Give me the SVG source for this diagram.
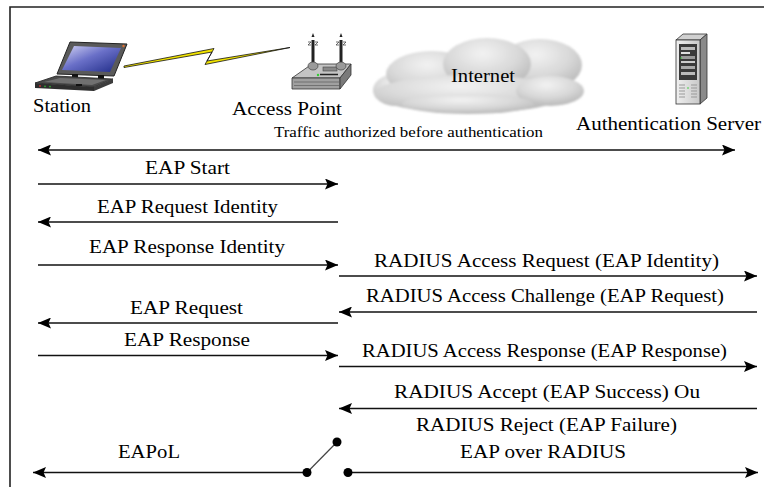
<svg xmlns="http://www.w3.org/2000/svg" width="764" height="487" viewBox="0 0 764 487">
  <style>
    .lbl { font-family: "Liberation Serif", "Times New Roman", serif; font-size: 19.5px; fill: #000; }
    .small { font-size: 15.5px; }
    .msg { stroke: #111; stroke-width: 1.3; fill: none; }
    .arr { marker-end: url(#head); }
    .both { marker-start: url(#head); marker-end: url(#head); }
    .dot { fill: #000; }
    .frame { stroke: #222; stroke-width: 1.6; fill: none; }
  </style>
  <defs>
    <marker id="head" viewBox="0 0 13 11" markerWidth="13" markerHeight="11" refX="13" refY="5.5" orient="auto-start-reverse" markerUnits="userSpaceOnUse">
      <path d="M0,0 L13,5.5 L0,11 L2.5,5.5 z" fill="#000"/>
    </marker>
    <linearGradient id="screen" x1="0" y1="0" x2="1" y2="1">
      <stop offset="0" stop-color="#d4d4f4"/>
      <stop offset="0.45" stop-color="#6a70c8"/>
      <stop offset="1" stop-color="#1e2a86"/>
    </linearGradient>
    <radialGradient id="puff" cx="0.45" cy="0.3" r="0.75">
      <stop offset="0" stop-color="#f2f2f2"/>
      <stop offset="0.55" stop-color="#d8d8d8"/>
      <stop offset="1" stop-color="#b4b4b4"/>
    </radialGradient>
    <linearGradient id="tower" x1="0" y1="0" x2="1" y2="0">
      <stop offset="0" stop-color="#f0f0f0"/>
      <stop offset="1" stop-color="#c8c8c8"/>
    </linearGradient>
    <filter id="soft" x="-10%" y="-20%" width="120%" height="140%">
      <feGaussianBlur stdDeviation="1.2"/>
    </filter>
  </defs>

  <rect width="764" height="487" fill="#fff"/>
  <!-- outer frame: left and top edges -->
  <path class="frame" d="M10,487 V7 H764"/>

  <!-- laptop -->
  <g id="station">
    <polygon points="70,42 127,44 114,76 57,74" fill="#5a5a5a" stroke="#222" stroke-width="1"/>
    <polygon points="74,46 121,48 110,72 62,70" fill="url(#screen)"/>
    <circle cx="123.5" cy="46" r="1.2" fill="#e07030"/>
    <rect x="72" y="74" width="6" height="5" fill="#111"/>
    <rect x="98" y="75" width="6" height="5" fill="#111"/>
    <polygon points="56,76 113,79 94,87 35,83" fill="#4a4a4a" stroke="#222" stroke-width="0.8"/>
    <polygon points="60,78 106,80 92,85 44,82" fill="#707070"/>
    <polygon points="35,83 94,87 94,91 35,88" fill="#2e2e2e"/>
    <polygon points="94,87 113,79 113,83 94,91" fill="#3c3c3c"/>
    <rect x="76" y="84" width="6" height="2" fill="#111"/>
    <circle cx="40" cy="86" r="0.9" fill="#c33"/>
    <circle cx="45" cy="86.3" r="0.9" fill="#3a3"/>
    <circle cx="50" cy="86.6" r="0.9" fill="#3a3"/>
    <text class="lbl" x="33" y="112" textLength="58" lengthAdjust="spacingAndGlyphs">Station</text>
  </g>

  <!-- wireless link -->
  <g id="radio-link">
    <polygon points="124,66 214,48.5 207,61 290,47.5 205,64.5 212,52 124,67.5" fill="#f2e400" stroke="#111" stroke-width="0.8"/>
  </g>

  <!-- access point -->
  <g id="access-point">
    <polygon points="292,78 312,64 351,64 340,78" fill="#c4c4c4" stroke="#333" stroke-width="0.8"/>
    <polygon points="292,78 340,78 340,89 292,89" fill="#a0a0a0" stroke="#333" stroke-width="0.8"/>
    <polygon points="340,78 351,64 351,75 340,89" fill="#7a7a7a" stroke="#333" stroke-width="0.8"/>
    <line x1="294" y1="82" x2="339" y2="82" stroke="#666" stroke-width="0.8"/>
    <line x1="294" y1="85.5" x2="339" y2="85.5" stroke="#666" stroke-width="0.8"/>
    <rect x="323" y="67" width="14" height="4" fill="#888" stroke="#444" stroke-width="0.6"/>
    <line x1="320" y1="74.5" x2="338" y2="74.5" stroke="#222" stroke-width="1.5"/>
    <circle cx="318" cy="75" r="1.2" fill="#3c3"/>
    <line x1="313" y1="40" x2="313" y2="65" stroke="#222" stroke-width="3"/>
    <line x1="341" y1="40" x2="341" y2="65" stroke="#222" stroke-width="3"/>
    <ellipse cx="313" cy="66" rx="5" ry="4" fill="#9a9a9a" stroke="#444" stroke-width="0.7"/>
    <ellipse cx="341" cy="66" rx="5" ry="4" fill="#9a9a9a" stroke="#444" stroke-width="0.7"/>
    <path d="M308,42 h3 l-3,3 h3 M315,42 h3 l-3,3 h3 M336,42 h3 l-3,3 h3 M343,42 h3 l-3,3 h3" stroke="#333" stroke-width="0.7" fill="none"/>
    <path d="M313,33 l-1.5,4 h3 z M341,33 l-1.5,4 h3 z" fill="#222"/>
    <text class="lbl" x="232" y="115" textLength="110" lengthAdjust="spacingAndGlyphs">Access Point</text>
  </g>

  <!-- cloud -->
  <g id="internet">
    <g filter="url(#soft)">
      <ellipse cx="396" cy="90" rx="23" ry="16" fill="url(#puff)"/>
      <ellipse cx="432" cy="74" rx="46" ry="23" fill="url(#puff)"/>
      <ellipse cx="540" cy="65" rx="42" ry="26" fill="url(#puff)"/>
      <ellipse cx="487" cy="64" rx="44" ry="26" fill="url(#puff)"/>
      <ellipse cx="470" cy="94" rx="96" ry="19" fill="url(#puff)"/>
      <ellipse cx="550" cy="91" rx="34" ry="15" fill="url(#puff)"/>
      <ellipse cx="468" cy="104" rx="66" ry="10" fill="url(#puff)"/>
    </g>
    <text class="lbl" x="451" y="82" textLength="64" lengthAdjust="spacingAndGlyphs">Internet</text>
  </g>

  <!-- tower server -->
  <g id="auth-server">
    <polygon points="676,40 683,34 707,34 700,40" fill="#d0d0d0" stroke="#333" stroke-width="0.8"/>
    <polygon points="700,40 707,34 707,98 700,104" fill="#8a8a8a" stroke="#333" stroke-width="0.8"/>
    <rect x="676" y="40" width="24" height="64" fill="url(#tower)" stroke="#333" stroke-width="0.8"/>
    <rect x="679" y="44" width="18" height="36" fill="#3a3a3a"/>
    <rect x="681" y="47" width="14" height="3" fill="#bbb"/>
    <rect x="681" y="52" width="9" height="2" fill="#ddd"/>
    <rect x="681" y="56" width="14" height="3" fill="#999"/>
    <rect x="681" y="61" width="14" height="2" fill="#ccc"/>
    <rect x="681" y="66" width="14" height="3" fill="#aaa"/>
    <rect x="681" y="72" width="14" height="3" fill="#bbb"/>
    <circle cx="681" cy="58" r="0.8" fill="#3c3"/>
    <path d="M679,85 h6 M691,85 h6 M679,88 h6 M691,88 h6 M679,91 h6 M691,91 h6 M679,94 h6 M691,94 h6 M679,97 h6 M691,97 h6" stroke="#999" stroke-width="1"/>
    <circle cx="688" cy="88" r="0.8" fill="#3c3"/>
    <text class="lbl" x="576" y="130" textLength="185" lengthAdjust="spacingAndGlyphs">Authentication Server</text>
  </g>

  <!-- message flow -->
  <g id="connectors">
    <text class="lbl small" x="274" y="137" textLength="269" lengthAdjust="spacingAndGlyphs">Traffic authorized before authentication</text>
    <line class="msg both" x1="38" y1="150" x2="735" y2="150"/>

    <line class="msg arr" x1="38" y1="184" x2="338" y2="184"/>
    <line class="msg arr" x1="338" y1="222" x2="38" y2="222"/>
    <line class="msg arr" x1="38" y1="265" x2="338" y2="265"/>
    <line class="msg arr" x1="339" y1="276" x2="757" y2="276"/>
    <line class="msg arr" x1="757" y1="312" x2="339" y2="312"/>
    <line class="msg arr" x1="338" y1="323" x2="38" y2="323"/>
    <line class="msg arr" x1="38" y1="355.5" x2="338" y2="355.5"/>
    <line class="msg arr" x1="339" y1="366.5" x2="757" y2="366.5"/>
    <line class="msg arr" x1="757" y1="408.5" x2="339" y2="408.5"/>

    <!-- port switch between EAPoL and RADIUS segments -->
    <line class="msg arr" x1="307" y1="472.5" x2="33" y2="472.5"/>
    <line x1="307" y1="472.5" x2="337" y2="442" stroke="#444" stroke-width="1.2"/>
    <line class="msg arr" x1="348" y1="472.5" x2="758" y2="472.5"/>
    <circle class="dot" cx="307" cy="472.5" r="4.5"/>
    <circle class="dot" cx="337" cy="442" r="4.5"/>
    <circle class="dot" cx="348" cy="472.5" r="4.5"/>

    <text class="lbl" x="145" y="174" textLength="85" lengthAdjust="spacingAndGlyphs">EAP Start</text>
    <text class="lbl" x="97" y="213" textLength="181" lengthAdjust="spacingAndGlyphs">EAP Request Identity</text>
    <text class="lbl" x="89" y="253" textLength="196" lengthAdjust="spacingAndGlyphs">EAP Response Identity</text>
    <text class="lbl" x="374" y="266.5" textLength="345" lengthAdjust="spacingAndGlyphs">RADIUS Access Request (EAP Identity)</text>
    <text class="lbl" x="366" y="302" textLength="358" lengthAdjust="spacingAndGlyphs">RADIUS Access Challenge (EAP Request)</text>
    <text class="lbl" x="130" y="314" textLength="113" lengthAdjust="spacingAndGlyphs">EAP Request</text>
    <text class="lbl" x="124" y="346" textLength="126" lengthAdjust="spacingAndGlyphs">EAP Response</text>
    <text class="lbl" x="362" y="356.5" textLength="365" lengthAdjust="spacingAndGlyphs">RADIUS Access Response (EAP Response)</text>
    <text class="lbl" x="394" y="398" textLength="306" lengthAdjust="spacingAndGlyphs">RADIUS Accept (EAP Success) Ou</text>
    <text class="lbl" x="416" y="431" textLength="261" lengthAdjust="spacingAndGlyphs">RADIUS Reject (EAP Failure)</text>
    <text class="lbl" x="118" y="458" textLength="62" lengthAdjust="spacingAndGlyphs">EAPoL</text>
    <text class="lbl" x="460" y="458" textLength="166" lengthAdjust="spacingAndGlyphs">EAP over RADIUS</text>
  </g>
</svg>
